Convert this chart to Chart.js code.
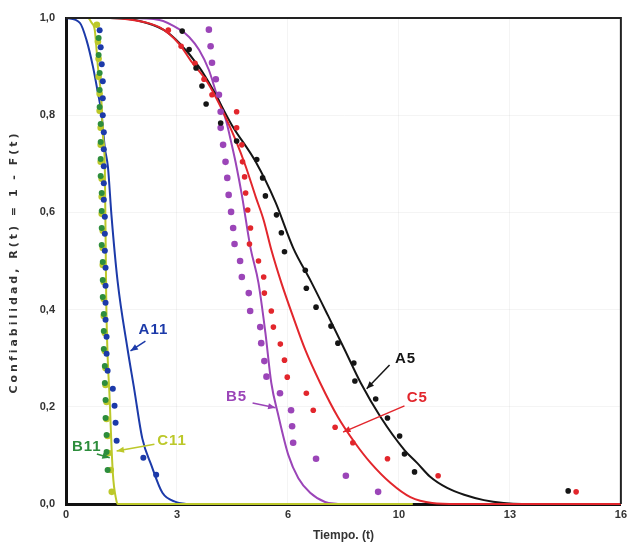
<!DOCTYPE html>
<html>
<head>
<meta charset="utf-8">
<script src="https://cdn.jsdelivr.net/npm/chart.js@4/dist/chart.umd.min.js"></script>
<style>
  html, body { margin: 0; padding: 0; background: #fff; }
  #wrap { width: 631px; height: 543px; position: relative; }
</style>
</head>
<body>
<div id="wrap"><canvas id="chart"></canvas></div>
<script>
// Axis ticks
const xTicks = [0, 3.2, 6.4, 9.6, 12.8, 16];
const xTickLabels = ['0', '3', '6', '10', '13', '16'];
const yTicks = [0, 0.2, 0.4, 0.6, 0.8, 1.0];
const yTickLabels = ['0,0', '0,2', '0,4', '0,6', '0,8', '1,0'];

// Observed points (tiempo, confiabilidad)
const a11DotsT = [0.97, 1.00, 1.03, 1.06, 1.06, 1.06, 1.09, 1.09, 1.09, 1.09, 1.09, 1.12, 1.12, 1.12, 1.14, 1.14, 1.14, 1.14, 1.17, 1.17, 1.20, 1.35, 1.40, 1.43, 1.46, 2.23, 2.60];
const a11DotsR = [0.975, 0.940, 0.905, 0.870, 0.835, 0.800, 0.765, 0.730, 0.695, 0.660, 0.626, 0.591, 0.556, 0.521, 0.486, 0.449, 0.414, 0.379, 0.344, 0.309, 0.274, 0.237, 0.202, 0.167, 0.130, 0.095, 0.060];

const b11DotsT = [0.94, 0.94, 0.97, 0.97, 0.97, 1.00, 1.00, 1.00, 1.00, 1.03, 1.03, 1.03, 1.03, 1.06, 1.06, 1.06, 1.09, 1.09, 1.09, 1.12, 1.12, 1.14, 1.14, 1.17, 1.17, 1.20];
const b11DotsR = [0.959, 0.924, 0.887, 0.852, 0.817, 0.782, 0.745, 0.710, 0.675, 0.640, 0.603, 0.568, 0.533, 0.498, 0.461, 0.426, 0.391, 0.356, 0.319, 0.284, 0.249, 0.214, 0.177, 0.142, 0.107, 0.070];

const c11DotsT = [0.89, 0.92, 0.94, 0.94, 0.97, 0.97, 1.00, 1.00, 1.00, 1.03, 1.03, 1.03, 1.06, 1.06, 1.06, 1.09, 1.09, 1.09, 1.12, 1.12, 1.14, 1.14, 1.17, 1.17, 1.20, 1.23, 1.29, 1.32];
const c11DotsR = [0.986, 0.951, 0.916, 0.879, 0.844, 0.809, 0.774, 0.739, 0.704, 0.669, 0.632, 0.597, 0.562, 0.527, 0.492, 0.457, 0.422, 0.387, 0.352, 0.315, 0.280, 0.245, 0.210, 0.175, 0.140, 0.105, 0.070, 0.025];

const a5DotsT = [3.35, 3.55, 3.75, 3.92, 4.04, 4.46, 4.92, 5.50, 5.67, 5.75, 6.07, 6.21, 6.30, 6.90, 6.93, 7.21, 7.64, 7.84, 8.30, 8.33, 8.93, 9.27, 9.62, 9.76, 10.05, 14.48];
const a5DotsR = [0.973, 0.935, 0.897, 0.860, 0.823, 0.784, 0.747, 0.709, 0.671, 0.634, 0.595, 0.558, 0.519, 0.481, 0.444, 0.405, 0.366, 0.331, 0.290, 0.253, 0.216, 0.177, 0.140, 0.103, 0.066, 0.027];

const b5DotsT = [4.12, 4.17, 4.21, 4.32, 4.41, 4.46, 4.46, 4.53, 4.60, 4.65, 4.69, 4.76, 4.82, 4.86, 5.02, 5.07, 5.27, 5.31, 5.60, 5.63, 5.72, 5.78, 6.17, 6.49, 6.52, 6.55, 7.21, 8.07, 9.00];
const b5DotsR = [0.976, 0.942, 0.908, 0.874, 0.842, 0.807, 0.774, 0.739, 0.704, 0.671, 0.636, 0.601, 0.568, 0.535, 0.500, 0.467, 0.434, 0.397, 0.364, 0.331, 0.294, 0.262, 0.228, 0.193, 0.160, 0.126, 0.093, 0.058, 0.025];

const c5DotsT = [2.95, 3.32, 3.72, 3.98, 4.21, 4.92, 4.92, 5.07, 5.09, 5.15, 5.18, 5.24, 5.32, 5.29, 5.55, 5.70, 5.72, 5.92, 5.98, 6.18, 6.30, 6.38, 6.93, 7.13, 7.76, 8.27, 9.27, 10.73, 14.71];
const c5DotsR = [0.975, 0.942, 0.907, 0.874, 0.842, 0.807, 0.774, 0.739, 0.704, 0.673, 0.640, 0.605, 0.568, 0.535, 0.500, 0.467, 0.434, 0.397, 0.364, 0.329, 0.296, 0.261, 0.228, 0.193, 0.158, 0.126, 0.093, 0.058, 0.025];

// Fitted curves
const a11CurveT = [0, 0.40, 0.59, 0.78, 0.92, 1.02, 1.12, 1.21, 1.31, 1.49, 1.77, 1.97, 2.20, 2.46, 2.78, 3.18, 3.46];
const a11CurveR = [1.0, 0.990, 0.955, 0.899, 0.846, 0.805, 0.733, 0.693, 0.595, 0.457, 0.321, 0.235, 0.135, 0.080, 0.023, 0.004, 0];

const c11CurveT = [0, 0.63, 0.74, 0.83, 0.92, 1.02, 1.06, 1.12, 1.16, 1.26, 1.35, 1.45, 1.49, 10.0];
const c11CurveR = [1.0, 1.0, 0.990, 0.975, 0.900, 0.830, 0.763, 0.693, 0.420, 0.214, 0.064, 0.008, 0, 0];

const a5CurveT = [0, 1.26, 2.12, 2.83, 3.26, 3.84, 4.21, 4.78, 5.47, 6.04, 6.55, 7.07, 7.56, 8.04, 8.50, 9.07, 9.76, 10.13, 10.50, 10.99, 11.48, 12.05, 12.62, 13.14, 16];
const a5CurveR = [1.0, 1.0, 0.994, 0.975, 0.949, 0.899, 0.856, 0.780, 0.704, 0.621, 0.527, 0.457, 0.387, 0.317, 0.249, 0.179, 0.111, 0.084, 0.056, 0.033, 0.019, 0.008, 0.002, 0, 0];

const b5CurveT = [0, 1.83, 2.69, 3.26, 3.55, 3.84, 4.12, 4.35, 4.61, 4.78, 4.92, 5.07, 5.32, 5.55, 5.75, 5.92, 6.12, 6.41, 6.70, 7.04, 7.47, 7.84];
const b5CurveR = [1.0, 1.0, 0.996, 0.977, 0.961, 0.934, 0.893, 0.842, 0.790, 0.739, 0.693, 0.636, 0.527, 0.455, 0.352, 0.249, 0.183, 0.101, 0.053, 0.023, 0.004, 0];

const c5CurveT = [0, 1.26, 1.92, 2.69, 3.26, 3.63, 4.04, 4.32, 4.64, 4.89, 5.18, 5.47, 5.70, 5.92, 6.21, 6.55, 6.90, 7.33, 7.84, 8.33, 8.79, 9.36, 9.93, 10.56, 11.28, 16];
const c5CurveR = [1.0, 1.0, 0.996, 0.981, 0.947, 0.909, 0.872, 0.837, 0.790, 0.749, 0.695, 0.632, 0.584, 0.523, 0.455, 0.385, 0.317, 0.249, 0.179, 0.126, 0.084, 0.043, 0.014, 0.002, 0, 0];

const pts = (t, r) => t.map((v, i) => ({ x: v, y: r[i] }));

const BLUE = '#1c3aa9', GREEN = '#2d8d3c', LIME = '#bcc82a', BLACK = '#151515', PURPLE = '#9b45b8', RED = '#e2262c';

function dots(data, color, radius) {
  return { data, showLine: false, pointRadius: radius, pointBackgroundColor: color, pointBorderWidth: 0, borderColor: color, clip: 6 };
}
function curve(data, color) {
  return { data, showLine: true, pointRadius: 0, borderColor: color, borderWidth: 2, cubicInterpolationMode: 'monotone', fill: false, clip: 6 };
}

// Curve labels with arrows, in data units
const callouts = [
  { text: 'A11', color: BLUE, tx: 2.52, ty: 0.358, from: [2.29, 0.335], to: [1.86, 0.315] },
  { text: 'B11', color: GREEN, tx: 0.60, ty: 0.117, from: [0.89, 0.103], to: [1.26, 0.095] },
  { text: 'C11', color: LIME, tx: 3.06, ty: 0.130, from: [2.55, 0.123], to: [1.46, 0.109] },
  { text: 'B5', color: PURPLE, tx: 4.92, ty: 0.220, from: [5.38, 0.208], to: [6.04, 0.198] },
  { text: 'C5', color: RED, tx: 10.13, ty: 0.218, from: [9.76, 0.202], to: [7.99, 0.148] },
  { text: 'A5', color: BLACK, tx: 9.79, ty: 0.298, from: [9.33, 0.286], to: [8.67, 0.237] }
];

const extras = {
  id: 'extras',
  afterDraw(chart) {
    const ctx = chart.ctx;
    const a = chart.chartArea;
    const xs = chart.scales.x, ys = chart.scales.y;
    ctx.save();
    // top and right frame
    ctx.strokeStyle = '#222';
    ctx.lineWidth = 2;
    ctx.beginPath();
    ctx.moveTo(a.left, a.top);
    ctx.lineTo(a.right, a.top);
    ctx.lineTo(a.right, a.bottom);
    ctx.stroke();

    // callouts
    ctx.font = 'bold 15px "Liberation Sans", Arial, sans-serif';
    ctx.letterSpacing = '1px';
    ctx.textAlign = 'center';
    ctx.textBaseline = 'middle';
    callouts.forEach(c => {
      ctx.fillStyle = c.color;
      ctx.fillText(c.text, xs.getPixelForValue(c.tx), ys.getPixelForValue(c.ty));
      const x1 = xs.getPixelForValue(c.from[0]), y1 = ys.getPixelForValue(c.from[1]);
      const x2 = xs.getPixelForValue(c.to[0]), y2 = ys.getPixelForValue(c.to[1]);
      ctx.strokeStyle = c.color;
      ctx.lineWidth = 1.5;
      ctx.beginPath();
      ctx.moveTo(x1, y1);
      ctx.lineTo(x2, y2);
      ctx.stroke();
      const ang = Math.atan2(y2 - y1, x2 - x1);
      ctx.fillStyle = c.color;
      ctx.beginPath();
      ctx.moveTo(x2, y2);
      ctx.lineTo(x2 - 8 * Math.cos(ang - 0.4), y2 - 8 * Math.sin(ang - 0.4));
      ctx.lineTo(x2 - 8 * Math.cos(ang + 0.4), y2 - 8 * Math.sin(ang + 0.4));
      ctx.closePath();
      ctx.fill();
    });

    // y axis title, letter spaced
    ctx.translate(14, 262);
    ctx.rotate(-Math.PI / 2);
    ctx.font = 'bold 11px "DejaVu Sans", sans-serif';
    ctx.letterSpacing = '3px';
    ctx.fillStyle = '#333';
    ctx.fillText('Confiabilidad, R(t) = 1 - F(t)', 0, 0);
    ctx.restore();
  }
};

const tickFont = { family: '"Liberation Sans Narrow", "Liberation Sans", sans-serif', size: 11, weight: 'bold' };

new Chart(document.getElementById('chart'), {
  type: 'scatter',
  data: {
    datasets: [
      dots(pts(a11DotsT, a11DotsR), BLUE, 3),
      dots(pts(b11DotsT, b11DotsR), GREEN, 3),
      dots(pts(c11DotsT, c11DotsR), LIME, 3.3),
      dots(pts(a5DotsT, a5DotsR), BLACK, 2.8),
      dots(pts(c5DotsT, c5DotsR), RED, 2.8),
      dots(pts(b5DotsT, b5DotsR), PURPLE, 3.3),
      curve(pts(c11CurveT, c11CurveR), LIME),
      curve(pts(c5CurveT, c5CurveR), RED),
      curve(pts(a5CurveT, a5CurveR), BLACK),
      curve(pts(b5CurveT, b5CurveR), PURPLE),
      curve(pts(a11CurveT, a11CurveR), BLUE)
    ]
  },
  options: {
    responsive: true,
    maintainAspectRatio: false,
    animation: false,
    layout: { padding: { top: 18, right: 5, left: 0, bottom: 0 } },
    plugins: {
      legend: { display: false },
      tooltip: { enabled: false }
    },
    scales: {
      x: {
        type: 'linear',
        min: 0,
        max: 16,
        afterFit: s => { s.height = 39; },
        afterBuildTicks: s => { s.ticks = xTicks.map(v => ({ value: v })); },
        ticks: {
          font: tickFont,
          color: '#333',
          padding: 4,
          maxRotation: 0,
          callback: (v, i) => xTickLabels[i]
        },
        grid: { color: 'rgba(0,0,0,0.045)', drawTicks: false, tickLength: 0 },
        border: { color: '#111', width: 3, dash: [] },
        title: {
          display: true,
          text: 'Tiempo. (t)',
          font: { family: '"Liberation Sans Narrow", "Liberation Sans", sans-serif', size: 12, weight: 'bold' },
          color: '#333',
          padding: { top: 0, bottom: 0 }
        }
      },
      y: {
        type: 'linear',
        min: 0,
        max: 1,
        afterFit: s => { s.width = 66; },
        afterBuildTicks: s => { s.ticks = yTicks.map(v => ({ value: v })); },
        ticks: {
          font: tickFont,
          color: '#333',
          padding: 11,
          callback: (v, i) => yTickLabels[i]
        },
        grid: { color: 'rgba(0,0,0,0.045)', drawTicks: false, tickLength: 0 },
        border: { color: '#111', width: 3 }
      }
    }
  },
  plugins: [extras]
});
</script>
</body>
</html>
